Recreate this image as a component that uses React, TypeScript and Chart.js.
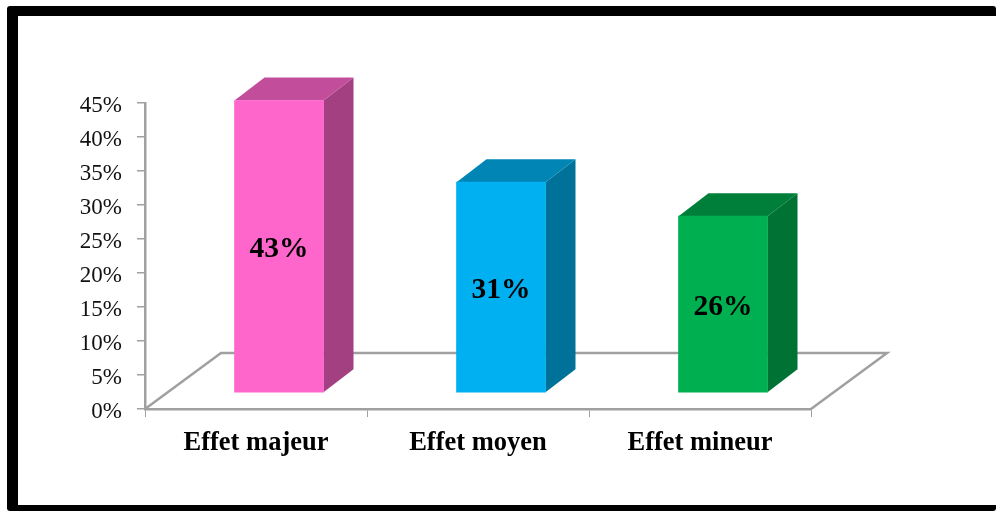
import React, { useEffect, useRef } from "react";
import { Chart, registerables } from "chart.js";

Chart.register(...registerables);

const categories = ["Effet majeur", "Effet moyen", "Effet mineur"];
const shares = [43, 31, 26];
const frontColors = ["#FF66CC", "#00B0F0", "#00B050"];
const sideColors = ["#A34082", "#007299", "#007234"];
const topColors = ["#C24E9B", "#0085B5", "#007F3A"];
const yTickStep = 5;
const yMax = 45;

const AXIS_GREY = "#A0A0A0";
const SERIF = '"Liberation Serif", "Times New Roman", serif';

// Pixel offsets of the oblique projection
const FRONT_DX = 23;
const FRONT_DY = -16;
const BAR_DX = 30;
const BAR_DY = -23;
const FLOOR_DX = 76;
const FLOOR_DY = -56;

const polygon = (ctx: CanvasRenderingContext2D, pts: number[][], fill: string) => {
  ctx.beginPath();
  pts.forEach(([x, y], i) => (i ? ctx.lineTo(x, y) : ctx.moveTo(x, y)));
  ctx.closePath();
  ctx.fillStyle = fill;
  ctx.fill();
};

// Thick black frame around the drawing, open at the right edge
const framePlugin = {
  id: "frame",
  beforeDraw(chart: any) {
    const { ctx, width, height } = chart;
    ctx.save();
    ctx.fillStyle = "#000";
    ctx.beginPath();
    ctx.roundRect(7, 6, width - 7, height - 6, 3);
    ctx.fill();
    ctx.fillStyle = "#fff";
    ctx.fillRect(18, 16, width - 18, 489);
    ctx.restore();
  },
};

// Floor parallelogram, drawn from the axis scales
const floorPlugin = {
  id: "floor",
  beforeDatasetsDraw(chart: any) {
    const { ctx, chartArea, scales } = chart;
    const y0 = scales.y.getPixelForValue(0);
    const { left, right } = chartArea;
    ctx.save();
    ctx.strokeStyle = AXIS_GREY;
    ctx.lineWidth = 2.5;
    ctx.beginPath();
    ctx.moveTo(left, y0);
    ctx.lineTo(left + FLOOR_DX, y0 + FLOOR_DY);
    ctx.lineTo(right + FLOOR_DX, y0 + FLOOR_DY);
    ctx.lineTo(right, y0);
    ctx.stroke();
    ctx.restore();
  },
};

// Moves the bars onto the middle of the floor and adds their side and top faces
const prismPlugin = {
  id: "prism",
  beforeDatasetsDraw(chart: any) {
    const { ctx } = chart;
    ctx.save();
    ctx.translate(FRONT_DX, FRONT_DY);
    chart.getDatasetMeta(0).data.forEach((bar: any, i: number) => {
      const { x, y, base, width } = bar.getProps(["x", "y", "base", "width"]);
      const l = x - width / 2;
      const r = x + width / 2;
      polygon(ctx, [[r, y], [r + BAR_DX, y + BAR_DY], [r + BAR_DX, base + BAR_DY], [r, base]], sideColors[i]);
      polygon(ctx, [[l, y], [l + BAR_DX, y + BAR_DY], [r + BAR_DX, y + BAR_DY], [r, y]], topColors[i]);
    });
  },
  afterDatasetsDraw(chart: any) {
    const { ctx } = chart;
    ctx.font = `bold 29.5px ${SERIF}`;
    ctx.fillStyle = "#000";
    ctx.textAlign = "center";
    ctx.textBaseline = "middle";
    chart.getDatasetMeta(0).data.forEach((bar: any, i: number) => {
      const { x, y, base } = bar.getProps(["x", "y", "base"]);
      ctx.fillText(`${shares[i]}%`, x, (y + base) / 2 + 3);
    });
    ctx.restore();
  },
};

export default function App() {
  const ref = useRef<HTMLCanvasElement>(null);

  useEffect(() => {
    document.body.style.margin = "0";
    const chart = new Chart(ref.current!, {
      type: "bar",
      data: {
        labels: categories,
        datasets: [
          {
            data: shares,
            backgroundColor: frontColors,
            barThickness: 89,
            clip: false,
          },
        ],
      },
      options: {
        animation: false,
        responsive: false,
        layout: { padding: { top: 103, right: 185 } },
        plugins: { legend: { display: false }, tooltip: { enabled: false } },
        scales: {
          x: {
            afterFit: (s: any) => {
              s.height = 102;
            },
            border: { color: AXIS_GREY, width: 2.5 },
            grid: { drawOnChartArea: false, color: AXIS_GREY, tickLength: 8, offset: true },
            ticks: {
              color: "#000",
              padding: 10,
              maxRotation: 0,
              font: { family: SERIF, size: 26.5, weight: "bold" },
            },
          },
          y: {
            min: 0,
            max: yMax,
            afterFit: (s: any) => {
              s.width = 145;
            },
            border: { color: AXIS_GREY, width: 2.5 },
            grid: { drawOnChartArea: false, color: AXIS_GREY, tickLength: 8, lineWidth: 1.5 },
            ticks: {
              stepSize: yTickStep,
              color: "#111",
              padding: 15,
              labelOffset: 3,
              font: { family: SERIF, size: 23 },
              callback: (v: any) => `${v}%`,
            },
          },
        },
      },
      plugins: [framePlugin, floorPlugin, prismPlugin],
    } as any);
    return () => chart.destroy();
  }, []);

  return <canvas ref={ref} width={996} height={511} style={{ display: "block" }} />;
}
